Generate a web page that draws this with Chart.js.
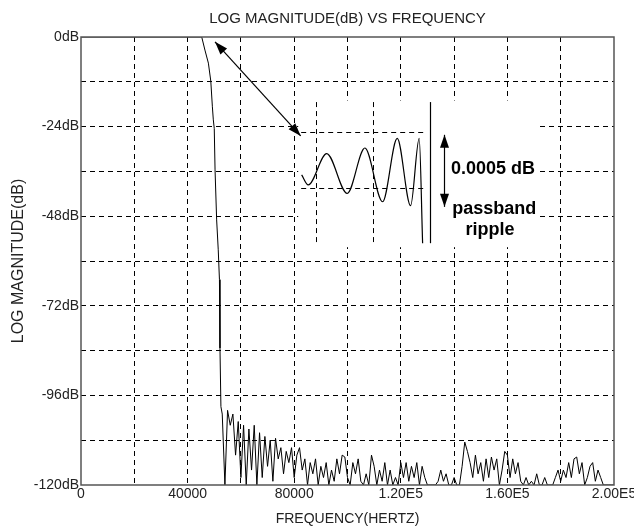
<!DOCTYPE html>
<html>
<head>
<meta charset="utf-8">
<script src="https://cdn.jsdelivr.net/npm/chart.js@4.4.1/dist/chart.umd.min.js"></script>
<style>
  html, body { margin: 0; padding: 0; background: #fff; }
  canvas { display: block; }
</style>
</head>
<body>
<canvas id="chart" width="634" height="529"></canvas>
<script>
// filter response: passband + transition band (Hz, dB)
const passbandHz = [0, 20000, 40000, 45000, 45300, 46500, 47800, 48700, 49300, 49650, 50000, 50300, 50900, 51500, 51950, 52150, 52500];
const passbandDb = [0, 0, 0, 0, 0, -3.5, -7, -11.8, -18.7, -22.2, -24.5, -35.6, -49, -57, -65, -83.3, -99];

// stopband noise floor (kHz, dB)
const noiseKHz = [
  53, 54, 55, 56, 57, 58, 59, 60, 61, 62,
  63, 64, 65, 66, 67, 68, 69, 70, 71, 72,
  73, 74, 75, 76, 77, 78, 79, 80, 81, 82,
  83, 84, 85, 86, 87, 88, 89, 90, 91, 92,
  93, 94, 95, 96, 97, 98, 99, 100, 101, 102,
  103, 104, 105, 106, 107, 108, 109, 110, 111, 112,
  113, 114, 115, 116, 117, 118, 119, 120, 121, 122,
  123, 124, 125, 126, 127, 128, 129, 130, 131, 132,
  133, 134, 135, 136, 137, 138, 139, 140, 141, 142,
  143, 144, 145, 146, 147, 148, 149, 150, 151, 152,
  153, 154, 155, 156, 157, 158, 159, 160, 161, 162,
  163, 164, 165, 166, 167, 168, 169, 170, 171, 172,
  173, 174, 175, 176, 177, 178, 179, 180, 181, 182,
  183, 184, 185, 186, 187, 188, 189, 190, 191, 192,
  193, 194, 195, 196, 197, 198, 199, 200
];
const noiseDb = [
  -101, -120, -100, -104, -101, -112, -103, -118, -104, -120,
  -105, -116, -104, -120, -106, -118, -107, -115, -108, -119,
  -107.5, -113, -110, -117, -111, -114, -110, -118, -112, -110,
  -116, -113, -120, -114, -117, -113, -120, -115, -118, -114,
  -120, -116, -119, -113, -117, -112, -112.5, -118, -120, -114,
  -117, -113, -119, -120, -117, -120, -112, -115, -120, -116,
  -119, -114, -120, -116, -120, -118, -120, -114, -118, -114,
  -119, -115, -118, -114, -120, -115, -118, -120, -120, -120,
  -120, -119, -116, -119, -117, -120, -120, -118, -120, -120,
  -115, -108.5, -111, -114, -118, -112, -117, -114, -119, -113,
  -118, -112.5, -116, -113, -120, -116, -111, -112, -118, -113,
  -117, -114, -119, -120, -118, -120, -119, -120, -117, -120,
  -120, -118, -120, -120, -120, -118, -116, -119, -116, -118,
  -114, -118, -113, -112.5, -117, -114, -120, -118, -115, -114,
  -119, -116, -118, -120, -120, -120, -120, -120
];

// magnified passband ripple shown in the inset (Hz, dB)
const rippleHz = [33740, 34320, 35950, 37760, 39320, 40880, 42170, 43350, 44110, 44410];
const rippleDb = [-0.00038, -0.00047, -0.00019, -0.000545, -0.00014, -0.00062, -0.000054, -0.000655, -0.000054, -0.00099];

const xTickLabels = ['0', '', '40000', '', '80000', '', '1.20E5', '', '1.60E5', '', '2.00E5'];
const yTickLabels = ['0dB', '', '-24dB', '', '-48dB', '', '-72dB', '', '-96dB', '', '-120dB'];

// inset layout, in main axes (x, y) or ripple axes (xr, yr)
const inset = {
  box: { x0: 81500, x1: 172200, y0: -17, y1: -56.3 },
  gridHz: [35000, 40000],
  gridTop: 0.00027,
  gridBottom: -0.00099,
  specDb: [0, -0.0005],
  specFrom: 33700,
  specTo: 44600,
  edgeHz: 45100,
  bigArrow: { x0: 50280, y0: -1.3, x1: 82440, y1: -26.5 },
  rippleArrow: { x: 136200, y0: -26.2, y1: -45.5 },
  labels: [
    { text: '0.0005 dB', x: 154600, y: -35.4 },
    { text: 'passband', x: 155100, y: -46.1 },
    { text: 'ripple', x: 153470, y: -51.7 },
  ],
};

Chart.defaults.font.family = "'Liberation Sans', Arial, Helvetica, sans-serif";
Chart.defaults.color = '#222';

const mainPoints = passbandHz.map((f, i) => ({ x: f, y: passbandDb[i] }))
  .concat(noiseKHz.map((k, i) => ({ x: k * 1000, y: noiseDb[i] })));
const ripplePoints = rippleHz.map((f, i) => ({ x: f, y: rippleDb[i] }));

const edgeGrid = (lo, hi) => (ctx) =>
  ctx.tick && (ctx.tick.value === lo || ctx.tick.value === hi) ? 'rgba(0,0,0,0)' : '#000';

const arrowHead = (ctx, tx, ty, fx, fy, len, half) => {
  const a = Math.atan2(ty - fy, tx - fx);
  ctx.beginPath();
  ctx.moveTo(tx, ty);
  ctx.lineTo(tx - len * Math.cos(a) + half * Math.sin(a), ty - len * Math.sin(a) - half * Math.cos(a));
  ctx.lineTo(tx - len * Math.cos(a) - half * Math.sin(a), ty - len * Math.sin(a) + half * Math.cos(a));
  ctx.closePath();
  ctx.fill();
};

const doubleArrow = (ctx, x0, y0, x1, y1) => {
  ctx.beginPath();
  ctx.moveTo(x0, y0);
  ctx.lineTo(x1, y1);
  ctx.stroke();
  arrowHead(ctx, x0, y0, x1, y1, 13, 4.5);
  arrowHead(ctx, x1, y1, x0, y0, 13, 4.5);
};

const insetPlugin = {
  id: 'insetPlugin',
  beforeDatasetsDraw(chart) {
    const { ctx, scales: { x, y, xr, yr } } = chart;
    const b = inset.box;
    ctx.save();
    ctx.fillStyle = '#fff';
    const px0 = x.getPixelForValue(b.x0), px1 = x.getPixelForValue(b.x1);
    const py0 = y.getPixelForValue(b.y0), py1 = y.getPixelForValue(b.y1);
    ctx.fillRect(px0, py0, px1 - px0, py1 - py0);

    ctx.strokeStyle = '#000';
    ctx.lineWidth = 1;
    ctx.setLineDash([5, 4]);
    inset.gridHz.forEach((f) => {
      const gx = Math.round(xr.getPixelForValue(f)) + 0.5;
      ctx.beginPath();
      ctx.moveTo(gx, yr.getPixelForValue(inset.gridTop));
      ctx.lineTo(gx, yr.getPixelForValue(inset.gridBottom));
      ctx.stroke();
    });
    inset.specDb.forEach((d) => {
      const gy = Math.round(yr.getPixelForValue(d)) + 0.5;
      ctx.beginPath();
      ctx.moveTo(xr.getPixelForValue(inset.specFrom), gy);
      ctx.lineTo(xr.getPixelForValue(inset.specTo), gy);
      ctx.stroke();
    });
    ctx.restore();
  },
  afterDatasetsDraw(chart) {
    const { ctx, chartArea: ca, scales: { x, y, xr, yr } } = chart;
    ctx.save();
    ctx.strokeStyle = '#000';
    ctx.fillStyle = '#000';
    ctx.lineWidth = 1.2;

    // band edge marker in the inset
    const ex = Math.round(xr.getPixelForValue(inset.edgeHz)) + 0.5;
    ctx.beginPath();
    ctx.moveTo(ex, yr.getPixelForValue(inset.gridTop));
    ctx.lineTo(ex, yr.getPixelForValue(inset.gridBottom));
    ctx.stroke();

    const ba = inset.bigArrow;
    doubleArrow(ctx, x.getPixelForValue(ba.x0), y.getPixelForValue(ba.y0),
      x.getPixelForValue(ba.x1), y.getPixelForValue(ba.y1));
    const ra = inset.rippleArrow;
    const rx = Math.round(x.getPixelForValue(ra.x)) + 0.5;
    doubleArrow(ctx, rx, y.getPixelForValue(ra.y0), rx, y.getPixelForValue(ra.y1));

    ctx.font = "bold 18px 'Liberation Sans', Arial, sans-serif";
    ctx.textAlign = 'center';
    ctx.textBaseline = 'middle';
    inset.labels.forEach((l) => {
      ctx.fillText(l.text, x.getPixelForValue(l.x), y.getPixelForValue(l.y));
    });

    // plot frame
    ctx.strokeStyle = '#555';
    ctx.lineWidth = 1.5;
    ctx.strokeRect(ca.left, ca.top, ca.right - ca.left, ca.bottom - ca.top);
    ctx.restore();
  },
};

new Chart(document.getElementById('chart'), {
  type: 'line',
  data: {
    datasets: [
      {
        label: 'Log magnitude',
        data: mainPoints,
        xAxisID: 'x',
        yAxisID: 'y',
        borderColor: '#000',
        borderWidth: 1,
        pointRadius: 0,
        tension: 0,
      },
      {
        label: 'Passband ripple',
        data: ripplePoints,
        xAxisID: 'xr',
        yAxisID: 'yr',
        borderColor: '#000',
        borderWidth: 1.2,
        pointRadius: 0,
        cubicInterpolationMode: 'monotone',
      },
    ],
  },
  options: {
    responsive: false,
    animation: false,
    events: [],
    layout: { padding: { left: 0, right: 20, top: 0, bottom: 0 } },
    plugins: { legend: { display: false }, tooltip: { enabled: false } },
    scales: {
      x: {
        type: 'linear',
        position: 'bottom',
        min: 0,
        max: 200000,
        grid: { color: edgeGrid(0, 200000), lineWidth: 1, drawTicks: false },
        border: { display: false, dash: [5, 4] },
        ticks: {
          stepSize: 20000,
          autoSkip: false,
          maxRotation: 0,
          padding: 1,
          font: { size: 14 },
          callback: (v) => xTickLabels[Math.round(v / 20000)] ?? '',
        },
        title: { display: true, text: 'FREQUENCY(HERTZ)', font: { size: 14 }, padding: { top: 0, bottom: 1 } },
        afterFit: (s) => { s.height = 44; s.paddingLeft = 0; s.paddingRight = 0; },
      },
      y: {
        type: 'linear',
        position: 'left',
        min: -120,
        max: 0,
        grid: { color: edgeGrid(-120, 0), lineWidth: 1, drawTicks: false },
        border: { display: false, dash: [5, 4] },
        ticks: {
          stepSize: 12,
          autoSkip: false,
          padding: 2,
          font: { size: 14 },
          callback: (v) => yTickLabels[Math.round(-v / 12)] ?? '',
        },
        title: { display: true, text: 'LOG MAGNITUDE(dB)', font: { size: 16 }, padding: { top: 9, bottom: 0 } },
        afterFit: (s) => { s.width = 81; s.paddingTop = 0; s.paddingBottom = 0; },
      },
      xt: {
        type: 'linear',
        position: 'top',
        min: 0,
        max: 1,
        grid: { display: false },
        border: { display: false },
        ticks: { display: false },
        title: { display: true, text: 'LOG MAGNITUDE(dB) VS FREQUENCY', font: { size: 15 }, padding: { top: 10, bottom: 0 } },
        afterFit: (s) => { s.height = 37; },
      },
      xr: { type: 'linear', display: false, min: 14280, max: 61290 },
      yr: { type: 'linear', display: false, min: -0.003149, max: 0.000851 },
    },
  },
  plugins: [insetPlugin],
});
</script>
</body>
</html>
